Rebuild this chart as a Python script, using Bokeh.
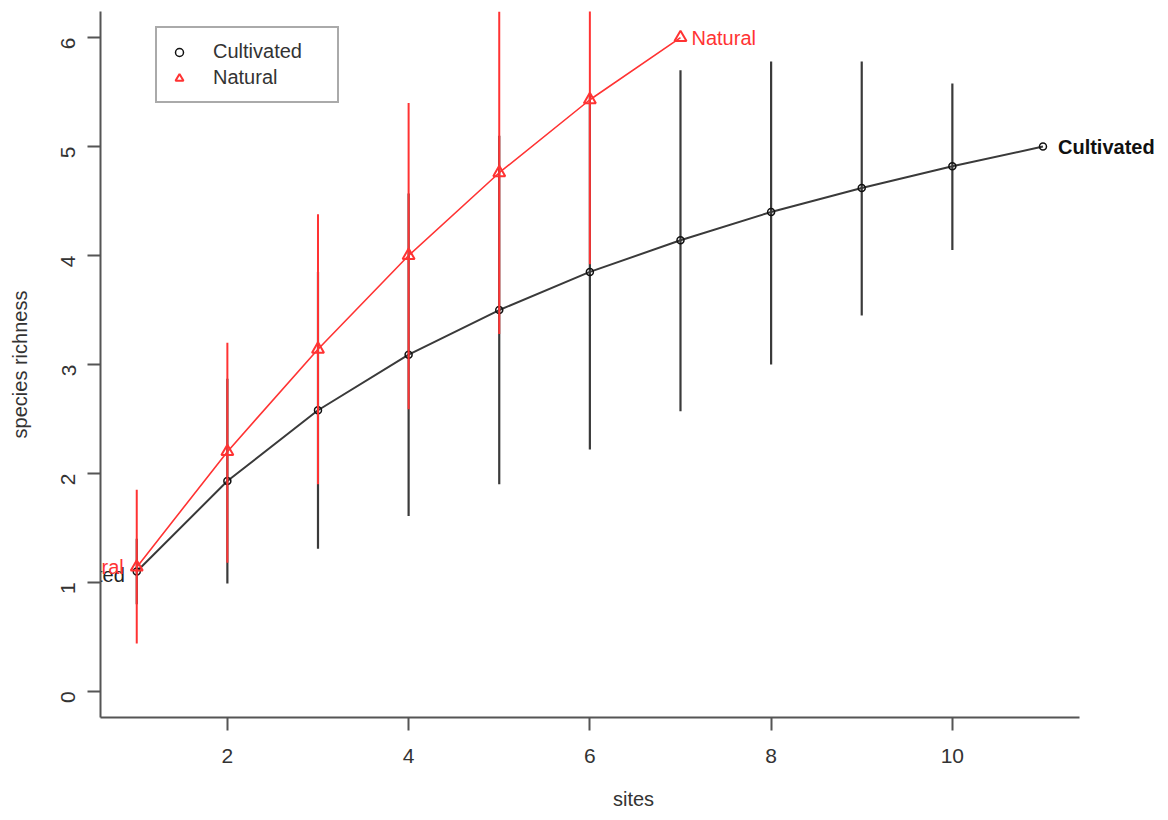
import math
from bokeh.plotting import figure
from bokeh.models import Range1d, FixedTicker, Legend, LegendItem, ColumnDataSource, Label
from bokeh.core.properties import value
from bokeh.embed import file_html
from bokeh.resources import INLINE

# ---- data ----
sites_cult = [1, 2, 3, 4, 5, 6, 7, 8, 9, 10, 11]
rich_cult = [1.10, 1.93, 2.58, 3.09, 3.50, 3.85, 4.14, 4.40, 4.62, 4.82, 5.00]
lo_cult = [0.80, 0.99, 1.31, 1.61, 1.90, 2.22, 2.57, 3.00, 3.45, 4.05, 5.00]
hi_cult = [1.40, 2.87, 3.85, 4.57, 5.10, 5.48, 5.70, 5.78, 5.78, 5.58, 5.00]

sites_nat = [1, 2, 3, 4, 5, 6, 7]
rich_nat = [1.14, 2.20, 3.14, 4.00, 4.76, 5.43, 6.00]
lo_nat = [0.44, 1.18, 1.90, 2.59, 3.28, 3.92, 6.00]
hi_nat = [1.85, 3.20, 4.38, 5.40, 6.24, 6.94, 6.00]

x_ticks = [2, 4, 6, 8, 10]
y_ticks = [0, 1, 2, 3, 4, 5, 6]
labels = ["Cultivated", "Natural"]

BLACK = "#3a3a3a"
RED = "#ff3333"
FONT = "Liberation Sans"

W, H = 1166, 818
p = figure(width=W, height=H, output_backend="svg", toolbar_location=None,
           x_range=Range1d(0.6, 12.363), y_range=Range1d(-0.24, 6.24),
           min_border_left=100, min_border_right=0, min_border_top=11, min_border_bottom=101,
           x_axis_label="sites", y_axis_label="species richness")
p.outline_line_color = None
p.xgrid.visible = False
p.ygrid.visible = False

for ax in (p.xaxis[0], p.yaxis[0]):
    ax.axis_line_color = "#555555"
    ax.axis_line_width = 2
    ax.major_tick_line_color = "#555555"
    ax.major_tick_line_width = 2
    ax.major_tick_out = 13
    ax.major_tick_in = 0
    ax.minor_tick_line_color = None
    ax.major_label_text_font = FONT
    ax.major_label_text_font_size = "21px"
    ax.major_label_text_color = "#333333"
    ax.axis_label_text_font = FONT
    ax.axis_label_text_font_size = "20px"
    ax.axis_label_text_font_style = "normal"
    ax.axis_label_text_color = "#333333"
p.xaxis.ticker = FixedTicker(ticks=x_ticks)
p.yaxis.ticker = FixedTicker(ticks=y_ticks)
p.xaxis.bounds = (0.6, 11.4)
p.yaxis.major_label_orientation = math.pi / 2
p.xaxis.major_label_standoff = 18
p.yaxis.major_label_standoff = 19
p.xaxis.axis_label_standoff = 22
p.yaxis.axis_label_standoff = 21

src_c = ColumnDataSource(dict(x=sites_cult, y=rich_cult, lo=lo_cult, hi=hi_cult))
src_n = ColumnDataSource(dict(x=sites_nat, y=rich_nat, lo=lo_nat, hi=hi_nat))

# Cultivated
p.line("x", "y", source=src_c, line_color=BLACK, line_width=2)
p.segment(x0="x", y0="lo", x1="x", y1="hi", source=src_c, line_color=BLACK, line_width=2.2)
pts_c = p.scatter("x", "y", source=src_c, marker="circle", size=7, fill_color=None,
                  line_color="#111111", line_width=1.5)

# Natural
p.line("x", "y", source=src_n, line_color=RED, line_width=1.6)
p.segment(x0="x", y0="lo", x1="x", y1="hi", source=src_n, line_color=RED, line_width=2)
pts_n = p.scatter("x", "y", source=src_n, marker="triangle", size=12, fill_color=None,
                  line_color=RED, line_width=2)

# end labels (left ends clipped by the frame)
p.text(x=[sites_cult[0]], y=[rich_cult[0]], text=[labels[0]], text_align="right",
       text_baseline="middle", x_offset=-12, y_offset=3, text_font=value(FONT),
       text_font_size="20px", text_color="#222222")
p.text(x=[sites_nat[0]], y=[rich_nat[0]], text=[labels[1]], text_align="right",
       text_baseline="middle", x_offset=-13, text_font=value(FONT),
       text_font_size="20px", text_color=RED)
p.add_layout(Label(x=sites_nat[-1], y=rich_nat[-1], text=labels[1], x_offset=11,
                   text_baseline="middle", text_font=FONT, text_font_size="20px",
                   text_color=RED))
p.add_layout(Label(x=sites_cult[-1], y=rich_cult[-1], text=labels[0], x_offset=15,
                   text_baseline="middle", text_font=FONT, text_font_size="20px",
                   text_font_style="bold", text_color="#111111"))

legend = Legend(items=[LegendItem(label=labels[0], renderers=[pts_c]),
                       LegendItem(label=labels[1], renderers=[pts_n])],
                location=(55, 614), border_line_color="#555555", border_line_width=2,
                padding=12, spacing=3, glyph_width=20, glyph_height=20,
                label_height=20, label_standoff=24, label_width=112,
                label_text_font=FONT, label_text_font_size="20px",
                label_text_color="#333333", margin=0, background_fill_alpha=1.0)
p.add_layout(legend)

open("out.html", "w").write(file_html(p, INLINE))
